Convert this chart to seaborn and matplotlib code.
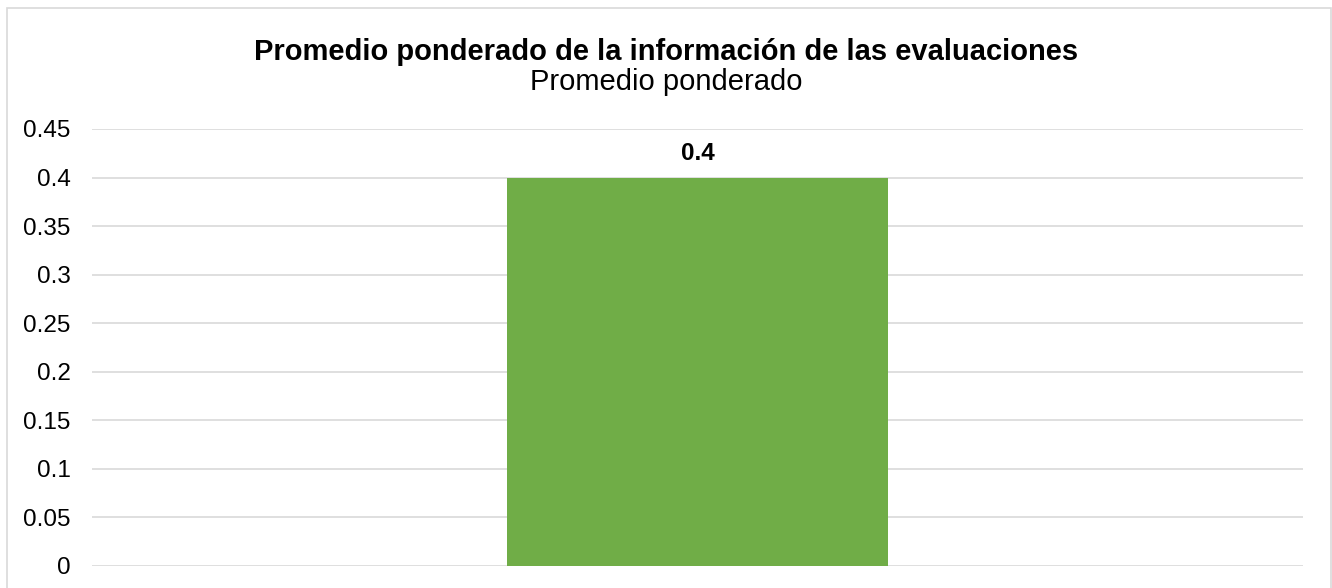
import matplotlib
matplotlib.use("Agg")
import matplotlib.pyplot as plt
import seaborn as sns
import pandas as pd
from matplotlib.patches import Rectangle

categories = ["Promedio ponderado"]
values = [0.4]
yticks = [0, 0.05, 0.1, 0.15, 0.2, 0.25, 0.3, 0.35, 0.4, 0.45]
ytick_labels = ["0", "0.05", "0.1", "0.15", "0.2", "0.25", "0.3", "0.35", "0.4", "0.45"]

sns.set_theme(style="white")
plt.rcParams['font.family'] = ['Liberation Sans', 'DejaVu Sans']

df = pd.DataFrame({"cat": categories, "val": values})

fig = plt.figure(figsize=(13.32, 5.88), dpi=100)
ax = fig.add_axes([92/1332, 1-566/588, (1303-92)/1332, (566-129)/588])

sns.barplot(data=df, x="cat", y="val", color="#70AD47", saturation=1, width=0.314,
            linewidth=0, ax=ax, zorder=3)

ax.set_ylim(0, 0.45)
ax.set_xlim(-0.5, 0.5)
ax.set_yticks(yticks)
ax.set_yticklabels(ytick_labels, fontsize=17.5, color="#000000")
ax.tick_params(axis="y", length=0, pad=15.5)
ax.set_xticks([])
ax.set_xlabel("")
ax.set_ylabel("")
ax.yaxis.grid(True, color="#D9D9D9", linewidth=1.2, zorder=0)
ax.set_axisbelow(True)
for s in ax.spines.values():
    s.set_visible(False)

for c in ax.containers:
    ax.bar_label(c, labels=[f"{v:g}" for v in values], padding=9, fontsize=17.5,
                 fontweight="bold", color="#000000")

fig.text(0.5, 1-52/588, "Promedio ponderado de la información de las evaluaciones",
         ha="center", va="center", fontsize=21, fontweight="bold", color="#000000")
fig.text(0.5, 1-82/588, "Promedio ponderado", ha="center", va="center", fontsize=21, color="#000000")

fig.patches.append(Rectangle((7/1332, -4/588), 1324/1332, 584/588, transform=fig.transFigure,
                             fill=False, edgecolor="#D9D9D9", linewidth=1.2))

fig.savefig("out.png", dpi=100, facecolor="white")
